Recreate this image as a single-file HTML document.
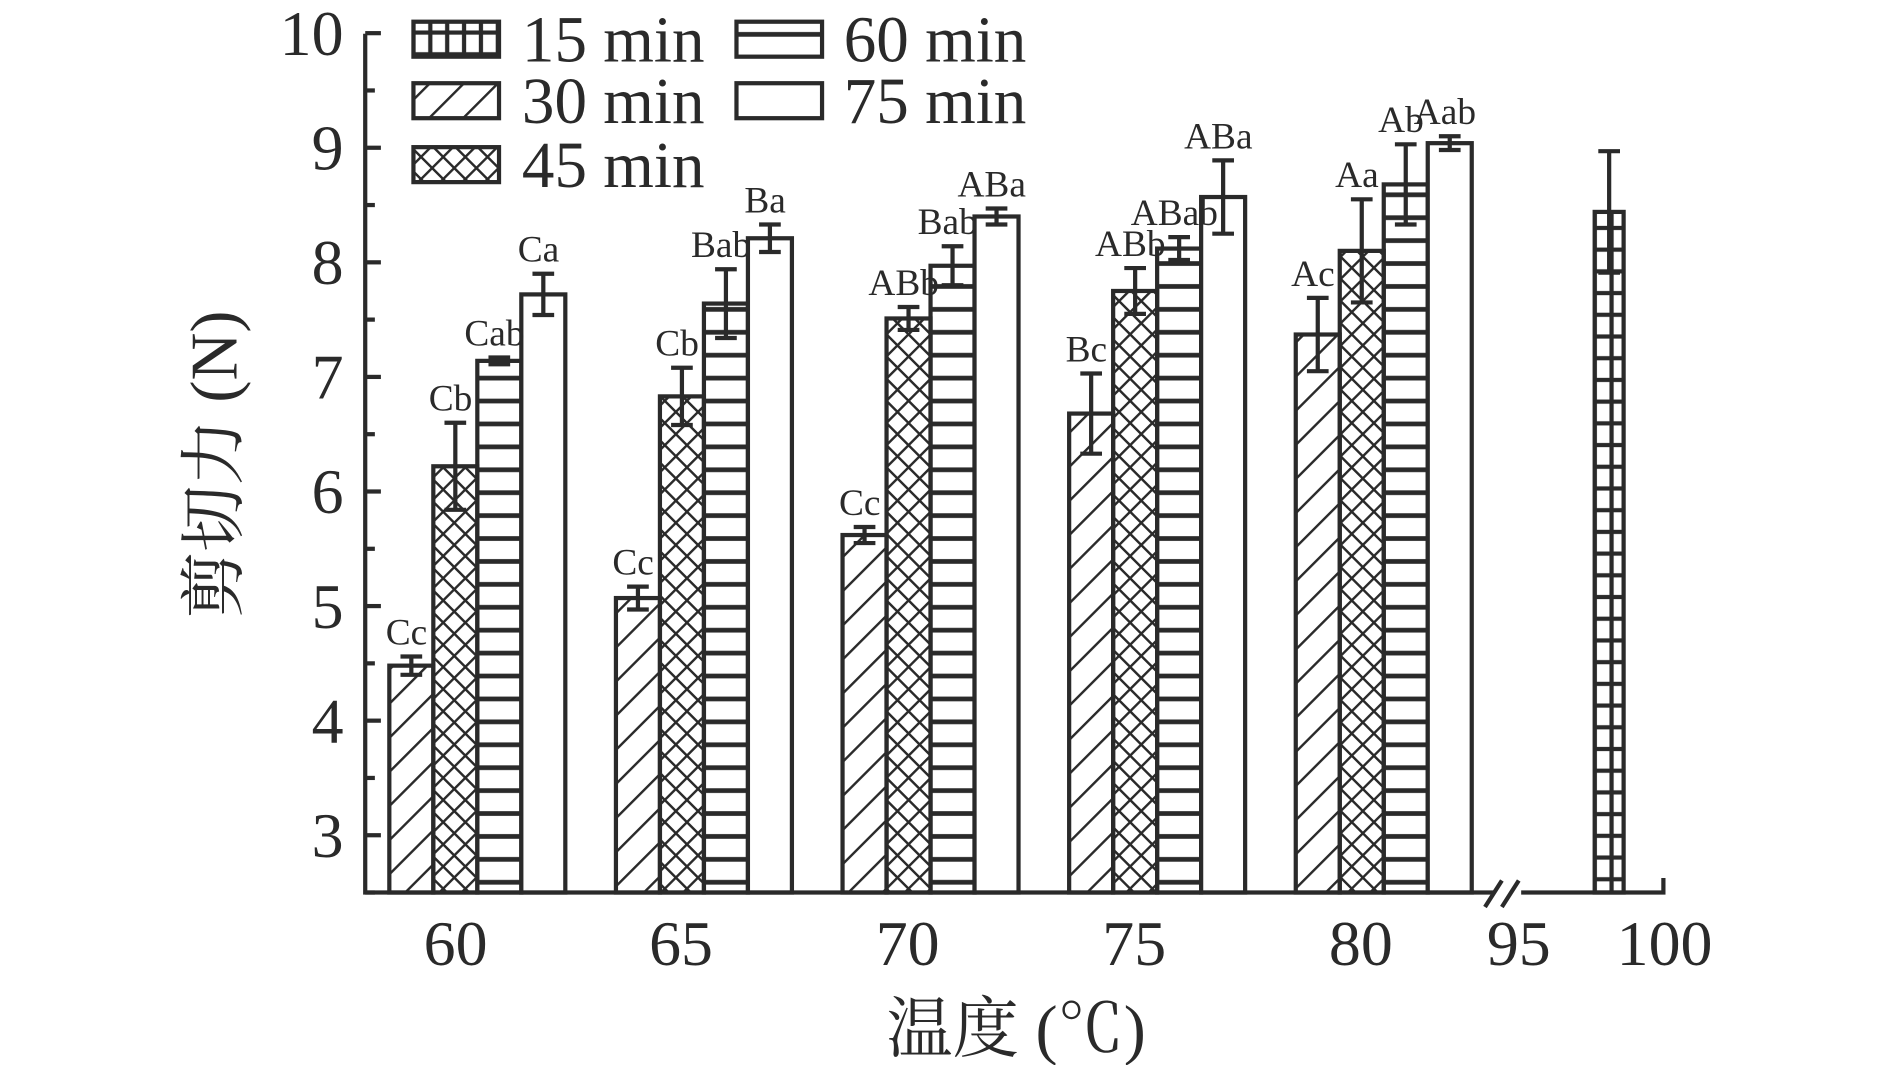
<!DOCTYPE html>
<html><head><meta charset="utf-8"><style>html,body{margin:0;padding:0;background:#fff}svg{display:block}</style></head><body>
<svg width="1890" height="1065" viewBox="0 0 1568 883" preserveAspectRatio="none" xmlns="http://www.w3.org/2000/svg">
<defs>
<pattern id="p15" width="14" height="18" patternUnits="userSpaceOnUse"><path d="M7 0V18M0 9H14" stroke="#2a2a2a" stroke-width="3.5"/></pattern>
<pattern id="p30" width="20" height="20" patternUnits="userSpaceOnUse" patternTransform="rotate(45)"><path d="M0 0V20" stroke="#2a2a2a" stroke-width="4"/></pattern>
<pattern id="p45" width="13" height="13" patternUnits="userSpaceOnUse" patternTransform="rotate(45)"><path d="M0 0V13M0 0H13" stroke="#2a2a2a" stroke-width="4"/></pattern>
<pattern id="p60" width="20" height="19" patternUnits="userSpaceOnUse"><path d="M0 9.5H20" stroke="#2a2a2a" stroke-width="4"/></pattern>
</defs>
<g font-family="Liberation Serif, serif" fill="#2a2a2a">
<g id="bars" stroke="#2a2a2a" stroke-width="3.5"></g>
<g stroke="#2a2a2a" stroke-width="3.5" fill="none">
<path d="M303 28V740H1240M1262 740H1380V728"/>
<path d="M1232 752L1246 730M1246 752L1260 730" stroke-width="3.5"/>
</g>
<g id="yt" stroke="#2a2a2a" stroke-width="3.5"></g>
<g font-size="53" text-anchor="end" id="yl"></g>
<g font-size="53" text-anchor="middle">
<text x="378" y="800">60</text><text x="565" y="800">65</text><text x="753" y="800">70</text><text x="941" y="800">75</text><text x="1129" y="800">80</text><text x="1260" y="800">95</text><text x="1381" y="800">100</text>
<text x="843" y="872" font-size="55" font-family="Liberation Serif, Noto Serif CJK SC, serif">温度 (℃)</text>
<text transform="translate(196,385) rotate(-90)" font-size="55" font-family="Liberation Serif, Noto Serif CJK SC, serif">剪切力 (N)</text>
</g>
<g stroke="#2a2a2a" stroke-width="3.5">
<rect x="343" y="18" width="71" height="29" fill="url(#p15)"/>
<rect x="343" y="69" width="71" height="29" fill="url(#p30)"/>
<rect x="343" y="122" width="71" height="29" fill="url(#p45)"/>
<rect x="611" y="18" width="71" height="29" fill="url(#p60)"/>
<rect x="611" y="69" width="71" height="29" fill="#fff"/>
</g>
<g font-size="54">
<text x="433" y="51">15 min</text><text x="433" y="102">30 min</text><text x="433" y="155">45 min</text>
<text x="700" y="51">60 min</text><text x="700" y="102">75 min</text>
</g>
<g id="lbl" font-size="31" text-anchor="middle"></g>
</g>
<script>
var Y=v=>740-(v-2.5)*95;
var ns="http://www.w3.org/2000/svg";
function el(p,t,a,txt){var e=document.createElementNS(ns,t);for(var k in a)e.setAttribute(k,a[k]);if(txt)e.textContent=txt;document.getElementById(p).appendChild(e);}
for(var i=0;i<=15;i++){var v=2.5+i*0.5,y=Y(v);el('yt','line',{x1:303,x2:i%2?316:311,y1:y,y2:y});if(i%2)el('yl','text',{x:285,y:y+18},String(v));}
var g=[[323,[[4.48,.08,'Cc'],[6.22,.38,'Cb'],[7.14,.03,'Cab'],[7.72,.18,'Ca']]],
[511,[[5.07,.1,'Cc'],[6.83,.25,'Cb'],[7.64,.3,'Bab'],[8.21,.12,'Ba']]],
[699,[[5.62,.07,'Cc'],[7.51,.1,'ABb'],[7.97,.17,'Bab'],[8.40,.07,'ABa']]],
[887,[[6.68,.35,'Bc'],[7.75,.2,'ABb'],[8.12,.1,'ABab'],[8.57,.32,'ABa']]],
[1075,[[7.37,.32,'Ac'],[8.10,.45,'Aa'],[8.68,.35,'Ab'],[9.04,.06,'Aab']]]];
var f=['url(#p30)','url(#p45)','url(#p60)','#fff'];
function bar(x,w,d,fill,lab){var y=Y(d[0]);el('bars','rect',{x:x,y:y,width:w,height:740-y,fill:fill});var c=x+w/2,t=Y(d[0]+d[1]),b=Y(d[0]-d[1]);el('bars','path',{d:'M'+c+' '+t+'V'+b+'M'+(c-9)+' '+t+'H'+(c+9)+'M'+(c-9)+' '+b+'H'+(c+9),fill:'none'});if(lab)el('lbl','text',{x:c-4,y:t-10},lab);}
g.forEach(function(G){G[1].forEach(function(d,j){bar(G[0]+j*36.5,36.5,d,f[j],d[2]);});});
bar(1323,24,[8.44,.53],'url(#p15)');
</script>
</svg>
</body></html>
